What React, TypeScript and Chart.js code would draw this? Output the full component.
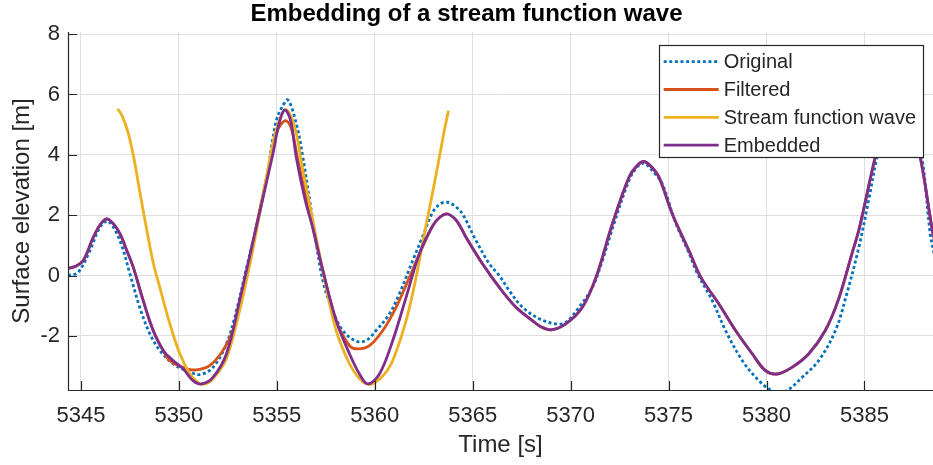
import React, { useEffect, useRef } from "react";
import { Chart, registerables } from "chart.js";

Chart.register(...registerables);

const TITLE = "Embedding of a stream function wave";
const X_LABEL = "Time [s]";
const Y_LABEL = "Surface elevation [m]";
const X_TICKS = [5345, 5350, 5355, 5360, 5365, 5370, 5375, 5380, 5385];
const Y_TICKS = [-2, 0, 2, 4, 6, 8];
const X_MIN = 5344.34;
const X_MAX = 5388.5;
const Y_MIN = -3.79;
const Y_MAX = 8.07;

const SERIES_LABELS = ["Original", "Filtered", "Stream function wave", "Embedded"];

const originalT = [
  5344.34, 5344.86, 5345.46, 5345.97, 5346.39, 5346.99, 5347.5, 5348.0, 5348.52, 5349.03,
  5349.7, 5350.39, 5351.07, 5351.74, 5352.43, 5352.94, 5353.45, 5353.95, 5354.46, 5354.97,
  5355.3, 5355.57, 5356.0, 5356.33, 5356.84, 5357.35, 5357.86, 5358.37, 5359.05, 5359.56,
  5360.07, 5360.75, 5361.26, 5361.94, 5362.45, 5362.96, 5363.35, 5363.72, 5364.1, 5364.48,
  5365.17, 5365.85, 5366.36, 5366.87, 5367.55, 5368.4, 5369.25, 5369.75, 5370.43, 5371.11,
  5371.6, 5372.13, 5372.98, 5373.4, 5373.75, 5374.2, 5374.68, 5375.36, 5376.04, 5376.45,
  5377.23, 5377.91, 5378.76, 5379.61, 5380.29, 5380.97, 5381.82, 5382.67, 5383.52, 5384.1,
  5384.7, 5385.21, 5385.64, 5386.2, 5386.8, 5387.4, 5387.93, 5388.36, 5388.6,
];
const originalV = [
  0.0, 0.11, 0.83, 1.6, 1.8, 1.16, 0.06, -1.05, -1.93, -2.48,
  -2.92, -3.15, -3.28, -3.04, -2.26, -1.16, 0.25, 1.6, 3.15, 5.13,
  5.62, 5.82, 5.02, 3.92, 1.82, -0.17, -1.16, -1.82, -2.17, -2.15,
  -1.82, -1.27, -0.6, 0.5, 1.3, 2.1, 2.38, 2.43, 2.3, 2.04,
  1.16, 0.39, 0.0, -0.5, -1.05, -1.43, -1.6, -1.55, -1.05, -0.39,
  0.45, 1.55, 3.15, 3.6, 3.72, 3.45, 3.04, 1.75, 0.75, 0.1,
  -0.83, -1.82, -2.81, -3.48, -3.81, -3.83, -3.37, -2.81, -1.82, -0.6,
  0.9, 2.48, 3.92, 5.3, 5.75, 5.2, 3.92, 1.38, 0.6,
];

const filteredT = [
  5344.34, 5344.7, 5345.12, 5345.63, 5346.0, 5346.31, 5346.65, 5346.99, 5347.33, 5347.67,
  5348.18, 5348.69, 5349.2, 5349.54, 5350.39, 5350.9, 5351.57, 5352.25, 5352.76, 5353.3,
  5353.87, 5354.4, 5354.97, 5355.2, 5355.48, 5355.75, 5356.1, 5356.85, 5357.35, 5358.03,
  5358.71, 5359.13, 5359.73, 5360.41, 5361.09, 5361.77, 5362.28, 5362.96, 5363.35, 5363.72,
  5364.2, 5364.66, 5365.5, 5366.36, 5367.21, 5368.05, 5368.5, 5368.99, 5369.75, 5370.6,
  5371.3, 5372.13, 5372.98, 5373.4, 5373.75, 5374.1, 5374.51, 5375.19, 5376.04, 5376.65,
  5377.57, 5378.42, 5379.27, 5379.95, 5380.54, 5381.3, 5382.16, 5383.0, 5383.68, 5384.36,
  5384.75, 5385.55, 5386.1, 5386.7, 5387.3, 5387.85, 5388.44, 5388.6,
];
const filteredV = [
  0.24, 0.3, 0.5, 1.27, 1.7, 1.88, 1.72, 1.39, 0.85, 0.28,
  -0.83, -1.82, -2.48, -2.82, -3.09, -3.12, -2.98, -2.48, -1.82, -0.45,
  1.38, 3.0, 4.69, 5.0, 5.13, 4.85, 3.75, 1.55, 0.17, -1.49,
  -2.32, -2.43, -2.32, -1.82, -1.05, -0.06, 0.72, 1.65, 1.95, 2.04,
  1.8, 1.27, 0.39, -0.39, -1.05, -1.49, -1.7, -1.8, -1.6, -1.05,
  -0.05, 1.71, 3.26, 3.65, 3.78, 3.62, 3.26, 2.04, 0.83, -0.06,
  -0.94, -1.82, -2.59, -3.15, -3.26, -3.04, -2.59, -1.82, -0.78, 0.72,
  1.6, 3.92, 5.2, 5.6, 5.2, 3.92, 1.6, 1.1,
];

const streamT = [
  5346.87, 5347.1, 5347.4, 5347.7, 5348.0, 5348.35, 5348.7, 5349.03, 5349.54, 5350.05,
  5350.56, 5350.9, 5351.15, 5351.5, 5351.9, 5352.43, 5353.1, 5353.6, 5354.06, 5354.6,
  5355.0, 5355.45, 5355.9, 5356.3, 5356.84, 5357.52, 5358.03, 5358.71, 5359.22, 5359.64,
  5360.0, 5360.45, 5360.92, 5361.6, 5362.11, 5362.53, 5362.87, 5363.3, 5363.55, 5363.76,
];
const streamV = [
  5.53, 5.3, 4.75, 3.9, 2.8, 1.55, 0.4, -0.4, -1.6, -2.59,
  -3.26, -3.5, -3.6, -3.55, -3.3, -2.75, -1.16, 0.3, 1.82, 3.7,
  4.9, 5.5, 4.95, 3.6, 1.82, -0.39, -1.82, -2.92, -3.42, -3.6,
  -3.55, -3.3, -2.81, -1.49, -0.06, 1.38, 2.48, 3.92, 4.8, 5.46,
];

const embeddedT = [
  5344.34, 5344.7, 5345.12, 5345.63, 5346.0, 5346.31, 5346.65, 5346.99, 5347.33, 5347.67,
  5348.18, 5348.69, 5349.2, 5349.7, 5350.21, 5350.72, 5351.15, 5351.74, 5352.43, 5353.1,
  5353.87, 5354.8, 5355.1, 5355.4, 5355.7, 5356.0, 5356.45, 5356.85, 5357.35, 5358.03,
  5358.71, 5359.22, 5359.64, 5360.24, 5360.92, 5361.6, 5362.28, 5362.96, 5363.35, 5363.72,
  5364.2, 5364.66, 5365.5, 5366.36, 5367.21, 5368.05, 5368.5, 5368.99, 5369.75, 5370.6,
  5371.3, 5372.13, 5372.98, 5373.4, 5373.75, 5374.1, 5374.51, 5375.19, 5376.04, 5376.65,
  5377.57, 5378.42, 5379.27, 5379.95, 5380.54, 5381.3, 5382.16, 5383.0, 5383.68, 5384.36,
  5384.75, 5385.55, 5386.1, 5386.7, 5387.3, 5387.85, 5388.44, 5388.6,
];
const embeddedV = [
  0.24, 0.3, 0.5, 1.27, 1.7, 1.88, 1.72, 1.39, 0.85, 0.28,
  -0.83, -1.82, -2.48, -2.81, -3.08, -3.48, -3.59, -3.37, -2.59, -0.83,
  1.38, 4.03, 5.0, 5.49, 5.15, 3.9, 2.5, 1.55, 0.17, -1.49,
  -2.59, -3.26, -3.59, -3.26, -2.15, -0.72, 0.72, 1.65, 1.95, 2.04,
  1.8, 1.27, 0.39, -0.39, -1.05, -1.49, -1.7, -1.8, -1.6, -1.05,
  -0.05, 1.71, 3.26, 3.65, 3.78, 3.62, 3.26, 2.04, 0.83, -0.06,
  -0.94, -1.82, -2.59, -3.15, -3.26, -3.04, -2.59, -1.82, -0.78, 0.72,
  1.6, 3.92, 5.2, 5.6, 5.2, 3.92, 1.6, 1.1,
];

const COLORS = ["#0072BD", "#D95319", "#EDB120", "#7E2F8E"];
const FONT = '"Liberation Sans", Arial, Helvetica, sans-serif';
const AXIS_COLOR = "#262626";

const toXY = (t: number[], v: number[]) => t.map((x, i) => ({ x, y: v[i] }));

const matlabPlugin = {
  id: "matlabAxesLegend",
  afterDatasetsDraw(chart: any) {
    const ctx = chart.ctx as CanvasRenderingContext2D;
    const a = chart.chartArea;
    const xs = chart.scales.x;
    const ys = chart.scales.y;
    ctx.save();
    ctx.strokeStyle = AXIS_COLOR;
    ctx.lineWidth = 1.2;
    ctx.setLineDash([]);
    ctx.beginPath();
    ctx.moveTo(a.left + 0.5, a.top);
    ctx.lineTo(a.left + 0.5, a.bottom + 0.5);
    ctx.lineTo(a.right, a.bottom + 0.5);
    X_TICKS.forEach((v) => {
      const px = Math.round(xs.getPixelForValue(v)) + 0.5;
      ctx.moveTo(px, a.bottom);
      ctx.lineTo(px, a.bottom - 9);
    });
    Y_TICKS.forEach((v) => {
      const py = Math.round(ys.getPixelForValue(v)) + 0.5;
      ctx.moveTo(a.left, py);
      ctx.lineTo(a.left + 9, py);
    });
    ctx.stroke();

    // legend
    ctx.font = `20px ${FONT}`;
    const ds = chart.data.datasets;
    let maxW = 0;
    ds.forEach((d: any) => {
      maxW = Math.max(maxW, ctx.measureText(d.label).width);
    });
    const sampleLen = 55;
    const w = 5 + sampleLen + 5 + maxW + 7;
    const h = 112;
    const right = a.right - 10;
    const left = right - w;
    const top = a.top + 13;
    ctx.fillStyle = "#ffffff";
    ctx.fillRect(left, top, w, h);
    ctx.strokeStyle = AXIS_COLOR;
    ctx.lineWidth = 1.2;
    ctx.strokeRect(Math.round(left) + 0.5, Math.round(top) + 0.5, Math.round(w), h);
    ds.forEach((d: any, i: number) => {
      const cy = top + 16.7 + i * 27.8;
      ctx.strokeStyle = d.borderColor;
      ctx.lineWidth = d.borderWidth;
      ctx.setLineDash(d.borderDash || []);
      ctx.beginPath();
      ctx.moveTo(left + 5, cy);
      ctx.lineTo(left + 5 + sampleLen, cy);
      ctx.stroke();
      ctx.setLineDash([]);
      ctx.fillStyle = AXIS_COLOR;
      ctx.textBaseline = "middle";
      ctx.textAlign = "left";
      ctx.fillText(d.label, left + 5 + sampleLen + 5, cy + 1);
    });
    ctx.restore();
  },
};

export default function App() {
  const canvasRef = useRef<HTMLCanvasElement | null>(null);

  useEffect(() => {
    const canvas = canvasRef.current;
    if (!canvas) return;
    const common = {
      pointRadius: 0,
      pointHoverRadius: 0,
      borderWidth: 2.8,
      fill: false,
      tension: 0.35,
    };
    const chart = new Chart(canvas, {
      type: "line",
      data: {
        datasets: [
          {
            ...common,
            label: SERIES_LABELS[0],
            data: toXY(originalT, originalV),
            borderColor: COLORS[0],
            borderDash: [3, 2.6],
            order: 3,
          },
          {
            ...common,
            label: SERIES_LABELS[1],
            data: toXY(filteredT, filteredV),
            borderColor: COLORS[1],
            order: 2,
          },
          {
            ...common,
            label: SERIES_LABELS[2],
            data: toXY(streamT, streamV),
            borderColor: COLORS[2],
            order: 1,
          },
          {
            ...common,
            label: SERIES_LABELS[3],
            data: toXY(embeddedT, embeddedV),
            borderColor: COLORS[3],
            order: 0,
          },
        ],
      },
      options: {
        animation: false,
        responsive: false,
        maintainAspectRatio: false,
        layout: { padding: 0 },
        events: [],
        plugins: {
          legend: { display: false },
          tooltip: { enabled: false },
          title: {
            display: true,
            text: TITLE,
            color: "#000000",
            font: { family: FONT, size: 24, weight: "bold", lineHeight: 1 },
            padding: { top: 2, bottom: 6 },
          },
        },
        scales: {
          x: {
            type: "linear",
            min: X_MIN,
            max: X_MAX,
            afterBuildTicks: (s: any) => {
              s.ticks = X_TICKS.map((value) => ({ value }));
            },
            afterFit: (s: any) => {
              s.height = 75;
            },
            grid: { color: "#dfdfdf", lineWidth: 1, drawTicks: false },
            border: { display: false },
            ticks: {
              color: AXIS_COLOR,
              font: { family: FONT, size: 22 },
              padding: 13,
              maxRotation: 0,
              autoSkip: false,
              callback: (v: any) => String(v),
            },
            title: {
              display: true,
              text: X_LABEL,
              color: AXIS_COLOR,
              font: { family: FONT, size: 24 },
              padding: { top: 0, bottom: 5.6 },
            },
          },
          y: {
            type: "linear",
            min: Y_MIN,
            max: Y_MAX,
            afterBuildTicks: (s: any) => {
              s.ticks = Y_TICKS.map((value) => ({ value }));
            },
            afterFit: (s: any) => {
              s.width = 68;
            },
            grid: { color: "#dfdfdf", lineWidth: 1, drawTicks: false },
            border: { display: false },
            ticks: {
              color: AXIS_COLOR,
              font: { family: FONT, size: 22 },
              padding: 8,
              autoSkip: false,
              callback: (v: any) => String(v),
            },
            title: {
              display: true,
              text: Y_LABEL,
              color: AXIS_COLOR,
              font: { family: FONT, size: 24 },
              padding: { top: 8.3, bottom: 0 },
            },
          },
        },
      },
      plugins: [matlabPlugin],
    });
    return () => chart.destroy();
  }, []);

  return (
    <div style={{ position: "fixed", left: 0, top: 0, width: 933, height: 465, background: "#ffffff" }}>
      <canvas ref={canvasRef} width={933} height={465} style={{ display: "block", width: 933, height: 465 }} />
    </div>
  );
}
